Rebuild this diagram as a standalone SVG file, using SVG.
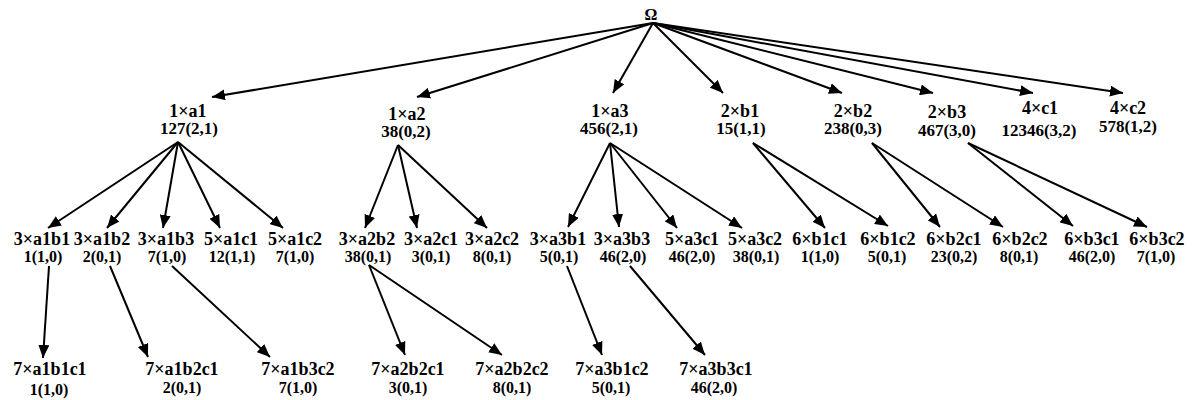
<svg xmlns="http://www.w3.org/2000/svg" width="1197" height="400" viewBox="0 0 1197 400">
  <style>
    text { font-family: "Liberation Serif", "Times New Roman", serif; font-weight: bold; fill: #000; text-anchor: middle; }
    .lbl { font-size: 18px; }
    .val { font-size: 16px; }
    .val1 { font-size: 17px; }
    .root { font-size: 16px; }
    .edge { stroke: #000; stroke-width: 2; fill: none; marker-end: url(#ah); }
  </style>
  <defs>
    <marker id="ah" markerUnits="userSpaceOnUse" markerWidth="14" markerHeight="11" refX="13" refY="5.5" orient="auto">
      <path d="M0,0 L13,5.5 L0,11 z" fill="#000"/>
    </marker>
  </defs>
  <rect width="1197" height="400" fill="#fff"/>

  <!-- connectors -->
  <g id="connectors">
    <!-- root to first level -->
    <path class="edge" d="M653,23 L212,97"/>
    <path class="edge" d="M653,23 L417,97"/>
    <path class="edge" d="M653,23 L613,93"/>
    <path class="edge" d="M653,23 L723,93"/>
    <path class="edge" d="M653,23 L842,93"/>
    <path class="edge" d="M653,23 L933,93"/>
    <path class="edge" d="M653,23 L1033,93"/>
    <path class="edge" d="M653,23 L1123,93"/>
    <!-- first level to second level -->
    <path class="edge" d="M178,142 L48,228"/>
    <path class="edge" d="M178,142 L107,228"/>
    <path class="edge" d="M178,142 L163,228"/>
    <path class="edge" d="M178,142 L220,228"/>
    <path class="edge" d="M178,142 L283,228"/>
    <path class="edge" d="M398,145 L365,228"/>
    <path class="edge" d="M398,145 L417,228"/>
    <path class="edge" d="M398,145 L487,228"/>
    <path class="edge" d="M610,143 L568,227"/>
    <path class="edge" d="M610,143 L619,227"/>
    <path class="edge" d="M610,143 L677,228"/>
    <path class="edge" d="M610,143 L742,228"/>
    <path class="edge" d="M753,143 L825,228"/>
    <path class="edge" d="M753,143 L888,226"/>
    <path class="edge" d="M872,143 L940,227"/>
    <path class="edge" d="M872,143 L1003,227"/>
    <path class="edge" d="M968,143 L1073,226"/>
    <path class="edge" d="M968,143 L1147,227"/>
    <!-- second level to third level -->
    <path class="edge" d="M49,266 L43,358"/>
    <path class="edge" d="M110,266 L148,357"/>
    <path class="edge" d="M172,266 L270,357"/>
    <path class="edge" d="M369,265 L405,355"/>
    <path class="edge" d="M369,265 L502,355"/>
    <path class="edge" d="M567,266 L602,355"/>
    <path class="edge" d="M630,266 L705,355"/>
  </g>

  <!-- root -->
  <g id="root"><text class="root" x="651" y="20">Ω</text></g>

  <!-- first level -->
  <g id="n-a1"><text class="lbl" x="188" y="117">1×a1</text><text class="val1" x="189" y="134">127(2,1)</text></g>
  <g id="n-a2"><text class="lbl" x="407" y="120">1×a2</text><text class="val1" x="406" y="137">38(0,2)</text></g>
  <g id="n-a3"><text class="lbl" x="610" y="117">1×a3</text><text class="val1" x="609" y="134">456(2,1)</text></g>
  <g id="n-b1"><text class="lbl" x="740" y="117">2×b1</text><text class="val1" x="741" y="134">15(1,1)</text></g>
  <g id="n-b2"><text class="lbl" x="853" y="117">2×b2</text><text class="val1" x="853" y="134">238(0,3)</text></g>
  <g id="n-b3"><text class="lbl" x="947" y="118">2×b3</text><text class="val1" x="947" y="136">467(3,0)</text></g>
  <g id="n-c1"><text class="lbl" x="1040" y="114">4×c1</text><text class="val1" x="1039" y="136">12346(3,2)</text></g>
  <g id="n-c2"><text class="lbl" x="1128" y="114">4×c2</text><text class="val1" x="1128" y="132">578(1,2)</text></g>

  <!-- second level -->
  <g id="n-a1b1"><text class="lbl" x="42" y="245">3×a1b1</text><text class="val" x="43" y="262">1(1,0)</text></g>
  <g id="n-a1b2"><text class="lbl" x="102" y="245">3×a1b2</text><text class="val" x="102" y="262">2(0,1)</text></g>
  <g id="n-a1b3"><text class="lbl" x="166" y="245">3×a1b3</text><text class="val" x="167" y="262">7(1,0)</text></g>
  <g id="n-a1c1"><text class="lbl" x="231" y="245">5×a1c1</text><text class="val" x="232" y="262">12(1,1)</text></g>
  <g id="n-a1c2"><text class="lbl" x="295" y="245">5×a1c2</text><text class="val" x="295" y="262">7(1,0)</text></g>
  <g id="n-a2b2"><text class="lbl" x="367" y="245">3×a2b2</text><text class="val" x="368" y="262">38(0,1)</text></g>
  <g id="n-a2c1"><text class="lbl" x="431" y="245">3×a2c1</text><text class="val" x="431" y="262">3(0,1)</text></g>
  <g id="n-a2c2"><text class="lbl" x="492" y="245">3×a2c2</text><text class="val" x="492" y="262">8(0,1)</text></g>
  <g id="n-a3b1"><text class="lbl" x="558" y="245">3×a3b1</text><text class="val" x="559" y="262">5(0,1)</text></g>
  <g id="n-a3b3"><text class="lbl" x="622" y="245">3×a3b3</text><text class="val" x="623" y="262">46(2,0)</text></g>
  <g id="n-a3c1"><text class="lbl" x="692" y="245">5×a3c1</text><text class="val" x="692" y="262">46(2,0)</text></g>
  <g id="n-a3c2"><text class="lbl" x="755" y="245">5×a3c2</text><text class="val" x="756" y="262">38(0,1)</text></g>
  <g id="n-b1c1"><text class="lbl" x="820" y="245">6×b1c1</text><text class="val" x="820" y="262">1(1,0)</text></g>
  <g id="n-b1c2"><text class="lbl" x="888" y="245">6×b1c2</text><text class="val" x="887" y="262">5(0,1)</text></g>
  <g id="n-b2c1"><text class="lbl" x="954" y="245">6×b2c1</text><text class="val" x="954" y="262">23(0,2)</text></g>
  <g id="n-b2c2"><text class="lbl" x="1020" y="245">6×b2c2</text><text class="val" x="1019" y="262">8(0,1)</text></g>
  <g id="n-b3c1"><text class="lbl" x="1092" y="245">6×b3c1</text><text class="val" x="1092" y="262">46(2,0)</text></g>
  <g id="n-b3c2"><text class="lbl" x="1157" y="245">6×b3c2</text><text class="val" x="1156" y="262">7(1,0)</text></g>

  <!-- third level -->
  <g id="n-a1b1c1"><text class="lbl" x="50" y="375">7×a1b1c1</text><text class="val" x="49" y="395">1(1,0)</text></g>
  <g id="n-a1b2c1"><text class="lbl" x="182" y="375">7×a1b2c1</text><text class="val" x="182" y="393">2(0,1)</text></g>
  <g id="n-a1b3c2"><text class="lbl" x="298" y="375">7×a1b3c2</text><text class="val" x="298" y="393">7(1,0)</text></g>
  <g id="n-a2b2c1"><text class="lbl" x="408" y="375">7×a2b2c1</text><text class="val" x="408" y="393">3(0,1)</text></g>
  <g id="n-a2b2c2"><text class="lbl" x="512" y="375">7×a2b2c2</text><text class="val" x="512" y="393">8(0,1)</text></g>
  <g id="n-a3b1c2"><text class="lbl" x="612" y="375">7×a3b1c2</text><text class="val" x="611" y="393">5(0,1)</text></g>
  <g id="n-a3b3c1"><text class="lbl" x="716" y="375">7×a3b3c1</text><text class="val" x="714" y="393">46(2,0)</text></g>
</svg>
